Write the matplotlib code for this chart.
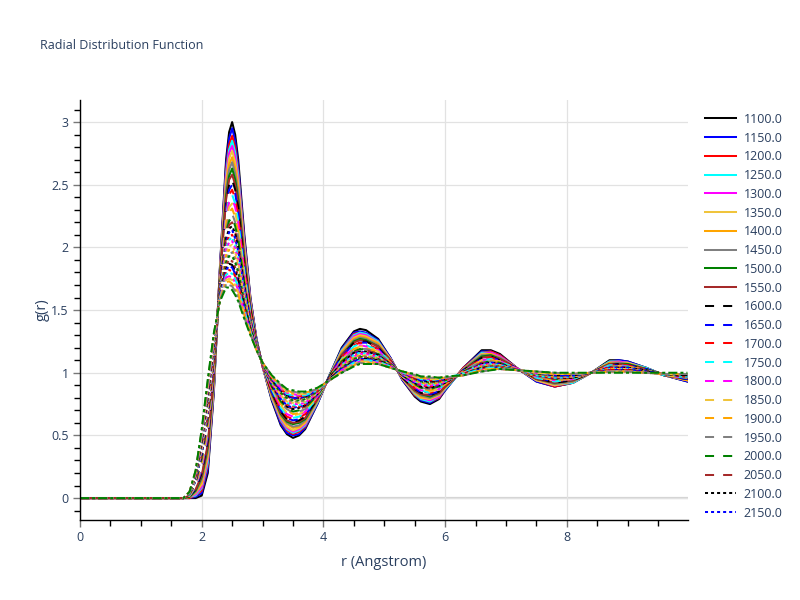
import matplotlib
matplotlib.use("Agg")
import matplotlib.pyplot as plt
from matplotlib.ticker import MultipleLocator, FuncFormatter

plt.rcParams["font.family"] = ["Open Sans", "DejaVu Sans"]

# r grid (Angstrom) shared by every curve
r_angstrom = [0.0, 1.7, 1.8, 1.9, 2.0, 2.1, 2.2, 2.3, 2.4, 2.45, 2.5, 2.55, 2.6, 2.7, 2.8,
              2.9, 3.0, 3.15, 3.3, 3.4, 3.5, 3.6, 3.7, 3.9, 4.1, 4.3, 4.5, 4.6, 4.7, 4.9,
              5.1, 5.3, 5.5, 5.6, 5.75, 5.9, 6.0, 6.3, 6.6, 6.75, 6.9, 7.2, 7.5, 7.8, 8.1,
              8.4, 8.7, 8.85, 9.0, 9.3, 9.6, 9.98]

temperatures = [1100 + 50 * i for i in range(39)]

# g(r), one row per temperature (1100 ... 3000)
g_rows = [
    [0, 0, 0, 0, .02, .20, .85, 1.85, 2.70, 2.92, 3.00, 2.90, 2.70, 2.10, 1.60, 1.27, 1.05, .78, .58, .51, .48, .50, .55, .75, .98, 1.20, 1.33, 1.35, 1.34, 1.27, 1.12, .94, .81, .77, .75, .79, .86, 1.04, 1.18, 1.18, 1.15, 1.03, .93, .89, .92, 1.00, 1.10, 1.10, 1.09, 1.04, .98, .93],
    [0, 0, 0, .01, .04, .23, .87, 1.84, 2.66, 2.87, 2.95, 2.85, 2.65, 2.07, 1.59, 1.27, 1.05, .79, .59, .52, .50, .51, .56, .75, .98, 1.19, 1.32, 1.33, 1.32, 1.26, 1.12, .94, .82, .78, .76, .80, .86, 1.04, 1.17, 1.17, 1.14, 1.03, .93, .89, .92, 1.0, 1.09, 1.10, 1.09, 1.04, .98, .93],
    [0, 0, 0, .02, .06, .26, .89, 1.83, 2.62, 2.82, 2.89, 2.80, 2.61, 2.05, 1.58, 1.26, 1.05, .80, .61, .54, .51, .53, .57, .76, .98, 1.18, 1.31, 1.32, 1.31, 1.25, 1.11, .95, .82, .79, .77, .80, .87, 1.04, 1.16, 1.17, 1.14, 1.03, .94, .89, .92, 1.0, 1.09, 1.09, 1.08, 1.04, .98, .94],
    [0, 0, .01, .02, .08, .28, .90, 1.82, 2.59, 2.78, 2.85, 2.76, 2.58, 2.03, 1.57, 1.26, 1.05, .80, .62, .55, .52, .54, .58, .76, .98, 1.18, 1.30, 1.32, 1.31, 1.25, 1.11, .95, .83, .79, .77, .81, .87, 1.03, 1.16, 1.16, 1.13, 1.03, .94, .90, .92, 1.0, 1.09, 1.09, 1.08, 1.04, .98, .94],
    [0, 0, .01, .03, .09, .31, .92, 1.81, 2.56, 2.75, 2.81, 2.72, 2.54, 2.01, 1.56, 1.26, 1.05, .81, .63, .56, .53, .55, .59, .77, .97, 1.17, 1.29, 1.31, 1.30, 1.24, 1.11, .95, .84, .80, .78, .81, .88, 1.03, 1.15, 1.16, 1.13, 1.03, .94, .90, .93, 1.0, 1.08, 1.09, 1.08, 1.03, .98, .94],
    [0, 0, .01, .04, .11, .33, .93, 1.80, 2.53, 2.71, 2.77, 2.68, 2.51, 1.99, 1.55, 1.25, 1.05, .81, .64, .57, .54, .56, .60, .77, .97, 1.17, 1.28, 1.30, 1.29, 1.24, 1.11, .95, .84, .80, .79, .82, .88, 1.03, 1.15, 1.15, 1.12, 1.03, .94, .90, .93, 1.0, 1.08, 1.08, 1.08, 1.03, .98, .94],
    [0, 0, .01, .05, .13, .36, .95, 1.79, 2.49, 2.66, 2.72, 2.63, 2.46, 1.96, 1.54, 1.25, 1.06, .82, .65, .59, .56, .57, .61, .78, .97, 1.16, 1.27, 1.29, 1.28, 1.23, 1.10, .96, .85, .81, .80, .83, .88, 1.03, 1.14, 1.15, 1.12, 1.03, .95, .91, .93, 1.0, 1.08, 1.08, 1.07, 1.03, .98, .94],
    [0, 0, .01, .05, .15, .38, .96, 1.78, 2.46, 2.62, 2.68, 2.59, 2.43, 1.94, 1.53, 1.25, 1.06, .83, .66, .60, .57, .58, .62, .78, .97, 1.15, 1.26, 1.28, 1.27, 1.22, 1.10, .96, .85, .82, .80, .83, .89, 1.03, 1.14, 1.14, 1.12, 1.03, .95, .91, .93, 1.0, 1.07, 1.08, 1.07, 1.03, .98, .95],
    [0, 0, .01, .06, .17, .41, .98, 1.77, 2.41, 2.57, 2.63, 2.54, 2.38, 1.91, 1.52, 1.25, 1.06, .84, .67, .61, .59, .60, .63, .79, .97, 1.14, 1.25, 1.27, 1.26, 1.21, 1.10, .96, .86, .83, .81, .84, .89, 1.02, 1.13, 1.14, 1.11, 1.03, .95, .92, .94, 1.0, 1.07, 1.07, 1.07, 1.03, .98, .95],
    [0, 0, .02, .07, .18, .43, 1.00, 1.76, 2.38, 2.54, 2.58, 2.50, 2.35, 1.89, 1.51, 1.24, 1.06, .84, .68, .62, .60, .61, .64, .79, .97, 1.14, 1.24, 1.26, 1.25, 1.21, 1.10, .96, .86, .83, .82, .84, .89, 1.02, 1.12, 1.13, 1.11, 1.03, .95, .92, .94, 1.0, 1.07, 1.07, 1.06, 1.03, .98, .95],
    [0, 0, .02, .07, .20, .46, 1.01, 1.75, 2.35, 2.50, 2.54, 2.46, 2.32, 1.87, 1.50, 1.24, 1.06, .85, .69, .63, .61, .62, .65, .79, .97, 1.13, 1.24, 1.25, 1.25, 1.20, 1.09, .96, .87, .84, .82, .85, .90, 1.02, 1.12, 1.13, 1.10, 1.03, .96, .92, .94, 1.0, 1.06, 1.07, 1.06, 1.03, .98, .95],
    [0, 0, .02, .08, .22, .48, 1.02, 1.75, 2.32, 2.46, 2.50, 2.43, 2.28, 1.85, 1.49, 1.24, 1.06, .85, .70, .64, .62, .63, .66, .80, .97, 1.13, 1.23, 1.24, 1.24, 1.19, 1.09, .97, .88, .84, .83, .85, .90, 1.02, 1.11, 1.12, 1.10, 1.03, .96, .93, .95, 1.0, 1.06, 1.06, 1.06, 1.03, .98, .95],
    [0, 0, .02, .09, .23, .50, 1.04, 1.74, 2.29, 2.42, 2.46, 2.39, 2.25, 1.83, 1.48, 1.23, 1.06, .86, .71, .65, .63, .64, .67, .80, .96, 1.12, 1.22, 1.24, 1.23, 1.19, 1.09, .97, .88, .85, .84, .86, .90, 1.02, 1.11, 1.12, 1.10, 1.03, .96, .93, .95, 1.0, 1.06, 1.06, 1.06, 1.02, .98, .96],
    [0, 0, .02, .09, .25, .52, 1.05, 1.73, 2.26, 2.39, 2.42, 2.35, 2.21, 1.81, 1.47, 1.23, 1.06, .87, .72, .66, .64, .65, .68, .80, .96, 1.11, 1.21, 1.23, 1.22, 1.18, 1.09, .97, .89, .86, .84, .87, .91, 1.01, 1.10, 1.11, 1.09, 1.03, .96, .93, .95, 1.0, 1.06, 1.06, 1.05, 1.02, .98, .96],
    [0, 0, .02, .10, .26, .54, 1.06, 1.72, 2.24, 2.36, 2.39, 2.32, 2.19, 1.80, 1.46, 1.23, 1.06, .87, .73, .67, .65, .66, .69, .81, .96, 1.11, 1.20, 1.22, 1.21, 1.18, 1.08, .97, .89, .86, .85, .87, .91, 1.01, 1.10, 1.11, 1.09, 1.03, .97, .94, .95, 1.0, 1.05, 1.05, 1.05, 1.02, .98, .96],
    [0, 0, .02, .11, .28, .56, 1.08, 1.71, 2.21, 2.32, 2.35, 2.28, 2.15, 1.78, 1.45, 1.23, 1.06, .88, .74, .68, .66, .67, .70, .81, .96, 1.10, 1.19, 1.21, 1.21, 1.17, 1.08, .97, .90, .87, .85, .87, .91, 1.01, 1.10, 1.10, 1.09, 1.02, .97, .94, .95, 1.0, 1.05, 1.05, 1.05, 1.02, .98, .96],
    [0, 0, .03, .11, .29, .59, 1.09, 1.71, 2.17, 2.28, 2.31, 2.24, 2.12, 1.76, 1.45, 1.22, 1.07, .88, .75, .70, .67, .68, .71, .81, .96, 1.10, 1.19, 1.20, 1.20, 1.16, 1.08, .98, .90, .87, .86, .88, .91, 1.01, 1.09, 1.10, 1.08, 1.02, .97, .94, .96, 1.0, 1.05, 1.05, 1.05, 1.02, .99, .96],
    [0, 0, .03, .12, .31, .61, 1.11, 1.70, 2.14, 2.24, 2.27, 2.20, 2.08, 1.73, 1.44, 1.22, 1.07, .89, .76, .71, .68, .69, .71, .82, .96, 1.09, 1.18, 1.19, 1.19, 1.16, 1.08, .98, .91, .88, .87, .89, .92, 1.01, 1.09, 1.09, 1.08, 1.02, .97, .95, .96, 1.0, 1.05, 1.05, 1.04, 1.02, .99, .96],
    [0, 0, .03, .13, .32, .63, 1.12, 1.69, 2.12, 2.21, 2.24, 2.17, 2.06, 1.72, 1.43, 1.22, 1.07, .89, .77, .72, .69, .70, .72, .82, .96, 1.09, 1.17, 1.19, 1.18, 1.15, 1.07, .98, .91, .88, .87, .89, .92, 1.01, 1.08, 1.09, 1.08, 1.02, .98, .95, .96, 1.0, 1.04, 1.04, 1.04, 1.02, .99, .97],
    [0, 0, .03, .13, .34, .65, 1.13, 1.68, 2.09, 2.18, 2.20, 2.13, 2.02, 1.70, 1.42, 1.22, 1.07, .90, .78, .73, .71, .71, .73, .83, .96, 1.08, 1.16, 1.18, 1.18, 1.15, 1.07, .98, .92, .89, .88, .90, .92, 1.00, 1.08, 1.08, 1.07, 1.02, .98, .95, .96, 1.0, 1.04, 1.04, 1.04, 1.02, .99, .97],
    [0, 0, .03, .14, .35, .67, 1.14, 1.68, 2.07, 2.15, 2.17, 2.11, 2.00, 1.69, 1.41, 1.21, 1.07, .90, .79, .73, .71, .72, .74, .83, .96, 1.08, 1.16, 1.17, 1.17, 1.14, 1.07, .98, .92, .89, .88, .90, .92, 1.00, 1.07, 1.08, 1.07, 1.02, .98, .96, .96, 1.0, 1.04, 1.04, 1.04, 1.02, .99, .97],
    [0, 0, .03, .14, .36, .68, 1.15, 1.67, 2.04, 2.12, 2.14, 2.07, 1.97, 1.67, 1.41, 1.21, 1.07, .91, .79, .74, .72, .73, .74, .83, .95, 1.07, 1.15, 1.17, 1.16, 1.14, 1.07, .98, .92, .90, .89, .90, .93, 1.00, 1.07, 1.08, 1.07, 1.02, .98, .96, .97, 1.0, 1.04, 1.04, 1.04, 1.01, .99, .97],
    [0, 0, .03, .15, .38, .70, 1.17, 1.66, 2.02, 2.09, 2.10, 2.04, 1.94, 1.65, 1.40, 1.21, 1.07, .91, .80, .75, .73, .73, .75, .83, .95, 1.07, 1.14, 1.16, 1.16, 1.13, 1.07, .99, .93, .90, .89, .91, .93, 1.00, 1.06, 1.07, 1.06, 1.02, .98, .96, .97, 1.0, 1.04, 1.03, 1.03, 1.01, .99, .97],
    [0, 0, .03, .15, .39, .72, 1.17, 1.66, 2.00, 2.06, 2.08, 2.02, 1.92, 1.64, 1.39, 1.21, 1.07, .92, .81, .76, .74, .74, .76, .84, .95, 1.06, 1.14, 1.16, 1.15, 1.13, 1.06, .99, .93, .91, .90, .91, .93, 1.00, 1.06, 1.07, 1.06, 1.02, .98, .96, .97, 1.0, 1.03, 1.03, 1.03, 1.01, .99, .97],
    [0, 0, .04, .16, .40, .73, 1.18, 1.65, 1.98, 2.04, 2.05, 1.99, 1.90, 1.62, 1.39, 1.21, 1.07, .92, .81, .77, .75, .75, .76, .84, .95, 1.06, 1.13, 1.15, 1.15, 1.12, 1.06, .99, .93, .91, .90, .91, .93, 1.00, 1.06, 1.07, 1.06, 1.02, .99, .97, .97, 1.0, 1.03, 1.03, 1.03, 1.01, .99, .98],
    [0, 0, .04, .16, .41, .75, 1.20, 1.64, 1.95, 2.01, 2.02, 1.96, 1.87, 1.61, 1.38, 1.20, 1.07, .93, .82, .77, .76, .76, .77, .84, .95, 1.05, 1.12, 1.14, 1.14, 1.12, 1.06, .99, .94, .92, .91, .92, .94, 1.00, 1.05, 1.06, 1.06, 1.02, .99, .97, .97, 1.0, 1.03, 1.03, 1.03, 1.01, .99, .98],
    [0, 0, .04, .17, .42, .77, 1.21, 1.64, 1.93, 1.98, 1.98, 1.93, 1.84, 1.59, 1.37, 1.20, 1.07, .93, .83, .78, .77, .77, .78, .85, .95, 1.05, 1.12, 1.14, 1.13, 1.11, 1.06, .99, .94, .92, .91, .92, .94, .99, 1.05, 1.06, 1.05, 1.02, .99, .97, .98, 1.0, 1.03, 1.02, 1.02, 1.01, .99, .98],
    [0, 0, .04, .17, .43, .78, 1.22, 1.63, 1.90, 1.95, 1.96, 1.90, 1.82, 1.58, 1.37, 1.20, 1.07, .94, .84, .79, .77, .77, .78, .85, .95, 1.04, 1.11, 1.13, 1.13, 1.11, 1.06, .99, .95, .93, .92, .93, .94, .99, 1.05, 1.06, 1.05, 1.02, .99, .97, .98, 1.0, 1.02, 1.02, 1.02, 1.01, .99, .98],
    [0, 0, .04, .18, .44, .80, 1.23, 1.63, 1.88, 1.93, 1.93, 1.88, 1.80, 1.56, 1.36, 1.20, 1.07, .94, .84, .80, .78, .78, .79, .85, .95, 1.04, 1.11, 1.13, 1.12, 1.11, 1.06, 1.00, .95, .93, .92, .93, .94, .99, 1.04, 1.05, 1.05, 1.02, .99, .98, .98, 1.0, 1.02, 1.02, 1.02, 1.01, .99, .98],
    [0, 0, .04, .18, .46, .82, 1.24, 1.62, 1.86, 1.90, 1.89, 1.84, 1.77, 1.55, 1.35, 1.20, 1.07, .94, .85, .81, .79, .79, .80, .85, .95, 1.03, 1.10, 1.12, 1.12, 1.10, 1.05, 1.00, .95, .94, .93, .93, .95, .99, 1.04, 1.05, 1.05, 1.02, 1.00, .98, .98, 1.0, 1.02, 1.02, 1.02, 1.01, .99, .98],
    [0, 0, .04, .19, .47, .84, 1.25, 1.61, 1.83, 1.87, 1.86, 1.81, 1.74, 1.53, 1.35, 1.19, 1.08, .95, .86, .82, .80, .80, .81, .86, .95, 1.03, 1.09, 1.11, 1.11, 1.10, 1.05, 1.00, .96, .94, .93, .94, .95, .99, 1.04, 1.04, 1.04, 1.02, 1.00, .98, .98, 1.0, 1.02, 1.02, 1.02, 1.01, .99, .98],
    [0, 0, .04, .19, .48, .85, 1.26, 1.61, 1.82, 1.85, 1.84, 1.79, 1.72, 1.52, 1.34, 1.19, 1.08, .95, .86, .82, .80, .80, .81, .86, .94, 1.03, 1.09, 1.11, 1.11, 1.09, 1.05, 1.00, .96, .94, .94, .94, .95, .99, 1.03, 1.04, 1.04, 1.02, 1.00, .98, .98, 1.0, 1.02, 1.02, 1.02, 1.01, .99, .99],
    [0, 0, .04, .19, .49, .86, 1.27, 1.60, 1.80, 1.82, 1.81, 1.77, 1.70, 1.51, 1.33, 1.19, 1.08, .96, .87, .83, .81, .81, .82, .86, .94, 1.02, 1.08, 1.10, 1.10, 1.09, 1.05, 1.00, .96, .95, .94, .94, .95, .99, 1.03, 1.04, 1.04, 1.02, 1.00, .99, .99, 1.0, 1.02, 1.02, 1.02, 1.00, .99, .99],
    [0, 0, .04, .20, .50, .88, 1.27, 1.60, 1.78, 1.80, 1.79, 1.75, 1.68, 1.50, 1.33, 1.19, 1.08, .96, .88, .83, .82, .82, .82, .86, .94, 1.02, 1.08, 1.10, 1.10, 1.09, 1.05, 1.00, .97, .95, .94, .95, .96, .99, 1.03, 1.04, 1.04, 1.02, 1.00, .99, .99, 1.0, 1.01, 1.01, 1.01, 1.00, .99, .99],
    [0, 0, .05, .20, .51, .89, 1.28, 1.59, 1.76, 1.77, 1.76, 1.72, 1.66, 1.48, 1.32, 1.19, 1.08, .96, .88, .84, .83, .82, .83, .87, .94, 1.02, 1.07, 1.09, 1.09, 1.08, 1.05, 1.00, .97, .96, .95, .95, .96, .98, 1.02, 1.03, 1.03, 1.02, 1.00, .99, .99, 1.0, 1.01, 1.01, 1.01, 1.00, .99, .99],
    [0, 0, .05, .21, .52, .90, 1.29, 1.59, 1.74, 1.75, 1.74, 1.70, 1.64, 1.47, 1.32, 1.18, 1.08, .97, .89, .85, .83, .83, .83, .87, .94, 1.01, 1.07, 1.09, 1.09, 1.08, 1.04, 1.01, .97, .96, .95, .95, .96, .98, 1.02, 1.03, 1.03, 1.02, 1.00, .99, .99, 1.0, 1.01, 1.01, 1.01, 1.00, .99, .99],
    [0, 0, .05, .21, .53, .92, 1.30, 1.58, 1.72, 1.73, 1.71, 1.67, 1.62, 1.46, 1.31, 1.18, 1.08, .97, .90, .86, .84, .84, .84, .87, .94, 1.01, 1.06, 1.08, 1.08, 1.07, 1.04, 1.01, .98, .96, .96, .96, .96, .98, 1.02, 1.03, 1.03, 1.02, 1.01, .99, .99, 1.0, 1.01, 1.01, 1.01, 1.00, .99, .99],
    [0, 0, .05, .22, .54, .93, 1.31, 1.58, 1.70, 1.70, 1.69, 1.65, 1.59, 1.44, 1.31, 1.18, 1.08, .98, .90, .86, .85, .84, .84, .87, .94, 1.00, 1.06, 1.08, 1.07, 1.07, 1.04, 1.01, .98, .97, .96, .96, .96, .98, 1.01, 1.02, 1.03, 1.02, 1.01, 1.00, .99, 1.0, 1.01, 1.01, 1.01, 1.00, .99, .99],
    [0, 0, .05, .22, .55, .95, 1.32, 1.57, 1.68, 1.68, 1.66, 1.62, 1.57, 1.43, 1.30, 1.18, 1.08, .98, .91, .87, .86, .85, .85, .88, .94, 1.00, 1.05, 1.07, 1.07, 1.07, 1.04, 1.01, .99, .97, .97, .96, .97, .98, 1.01, 1.02, 1.03, 1.02, 1.01, 1.00, 1.00, 1.0, 1.00, 1.00, 1.00, 1.00, 1.00, 1.00],
]

line_colors = ["black", "blue", "red", "cyan", "magenta", "#f0c43c",
               "orange", "gray", "green", "brown"]
# solid, dash, dot, dashdot (in units of line width)
line_dashes = [None, (4.5, 4.5), (1.5, 1.5), (4.5, 1.5, 1.5, 1.5)]

TEXT_COLOR = "#2a3f5f"

fig = plt.figure(figsize=(8, 6), dpi=100)
ax = fig.add_axes([0.1, 0.1333, 0.76, 0.7])

handles = []
for k, (temp, g) in enumerate(zip(temperatures, g_rows)):
    color = line_colors[k % 10]
    dash = line_dashes[k // 10]
    if dash is None:
        line, = ax.plot(r_angstrom, g, color=color, lw=1.45, label=f"{temp:.1f}")
    else:
        line, = ax.plot(r_angstrom, g, color=color, lw=1.45, dashes=dash,
                        label=f"{temp:.1f}")
    handles.append(line)

ax.axhline(0, color="#d4d4d4", lw=1.6, zorder=0.5)
ax.set_xlim(0, 9.99)
ax.set_ylim(-0.175, 3.176)

ax.xaxis.set_major_locator(MultipleLocator(2))
ax.xaxis.set_minor_locator(MultipleLocator(0.5))
ax.yaxis.set_major_locator(MultipleLocator(0.5))
ax.yaxis.set_minor_locator(MultipleLocator(0.1))
ax.yaxis.set_major_formatter(FuncFormatter(lambda v, p: f"{v:g}"))
ax.xaxis.set_major_formatter(FuncFormatter(lambda v, p: f"{v:g}"))

ax.grid(which="major", color="#e2e2e2", lw=0.9)
ax.set_axisbelow(True)
for side in ["top", "right"]:
    ax.spines[side].set_visible(False)
for side in ["left", "bottom"]:
    ax.spines[side].set_color("black")
    ax.spines[side].set_linewidth(1)

ax.tick_params(which="major", direction="out", length=5, width=1, color="#777777",
               labelsize=9, labelcolor=TEXT_COLOR, pad=3)
ax.tick_params(which="minor", direction="out", length=4, width=1, color="black")

fig.text(0.05, 0.924, "Radial Distribution Function", fontsize=9, color=TEXT_COLOR,
         ha="left", va="center")
fig.text(0.48, 1 - 563 / 600, "r (Angstrom)", fontsize=10.5, color=TEXT_COLOR,
         ha="center", va="center")
fig.text(0.053, 1 - 310 / 600, "g(r)", fontsize=10.5, color=TEXT_COLOR,
         ha="center", va="center", rotation=90)

# only the first 22 entries fit in the legend area
fig.legend(handles[:22], [h.get_label() for h in handles[:22]],
           loc="upper left", bbox_to_anchor=(0.881, 0.812), frameon=False,
           fontsize=9, labelcolor=TEXT_COLOR, handlelength=2.5,
           handletextpad=0.6, labelspacing=0.46, borderpad=0, borderaxespad=0)

fig.savefig("out.png", dpi=100)
